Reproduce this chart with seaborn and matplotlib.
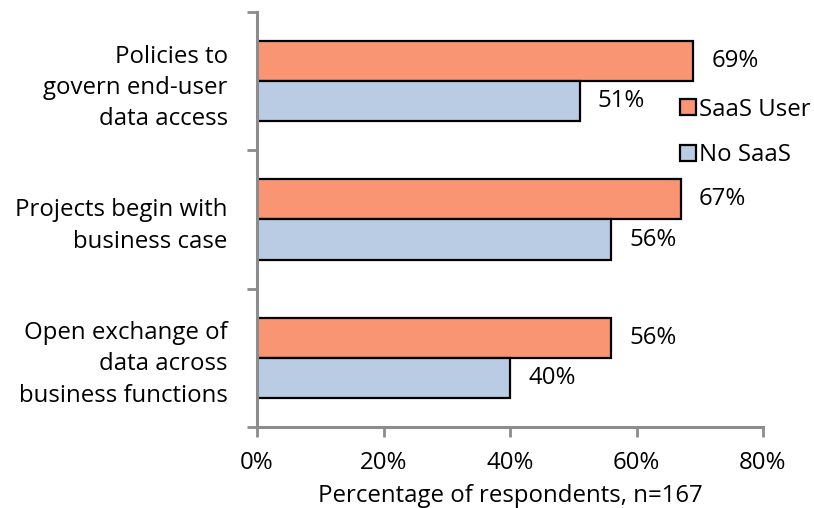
import matplotlib
matplotlib.use("Agg")
import matplotlib.pyplot as plt
import seaborn as sns
import pandas as pd
from matplotlib.ticker import FixedLocator, PercentFormatter

categories = ["Policies to\ngovern end-user\ndata access",
              "Projects begin with\nbusiness case",
              "Open exchange of\ndata across\nbusiness functions"]
saas_user = [69, 67, 56]
no_saas = [51, 56, 40]
series = ["SaaS User", "No SaaS"]
colors = {"SaaS User": "#FA9573", "No SaaS": "#B9CCE4"}
x_ticks = [0, 20, 40, 60, 80]

df = pd.DataFrame({
    "Category": categories * 2,
    "Value": saas_user + no_saas,
    "Group": [series[0]] * 3 + [series[1]] * 3,
})

sns.set_style("white")
plt.rcParams["font.family"] = ["Open Sans", "DejaVu Sans"]
plt.rcParams["text.color"] = "black"
plt.rcParams["xtick.color"] = "black"
plt.rcParams["ytick.color"] = "black"
plt.rcParams["axes.labelcolor"] = "black"
fs = 17.3

fig = plt.figure(figsize=(8.14, 5.08), dpi=100)
ax = fig.add_axes([257/814, 1-427/508, (763-257)/814, (427-12)/508])

sns.barplot(data=df, y="Category", x="Value", hue="Group", palette=colors,
            orient="h", width=0.58, edgecolor="black", linewidth=1.6,
            saturation=1, ax=ax, order=categories, hue_order=series)

for c in ax.containers:
    ax.bar_label(c, labels=[f"{int(round(v))}%" for v in c.datavalues],
                 padding=13, fontsize=fs)

ax.set_xlim(0, 80)
ax.set_ylim(2.5, -0.5)
ax.xaxis.set_major_locator(FixedLocator(x_ticks))
ax.xaxis.set_major_formatter(PercentFormatter(decimals=0))
ax.set_xlabel("Percentage of respondents, n=167", fontsize=fs, labelpad=7)
ax.set_ylabel("")
ax.tick_params(axis="x", bottom=True, labelsize=fs, length=7, width=2,
               color="#8c8c8c", labelcolor="black", direction="out", pad=10)
ax.tick_params(axis="y", which="major", left=False, length=0, labelsize=fs,
               pad=21, labelcolor="black")
ax.yaxis.set_minor_locator(FixedLocator([-0.5, 0.5, 1.5, 2.5]))
ax.tick_params(axis="y", which="minor", left=True, length=7, width=2,
               color="#8c8c8c", direction="out")
for lbl in ax.get_yticklabels():
    lbl.set_horizontalalignment("right")
    lbl.set_multialignment("right")
    lbl.set_linespacing(1.4)

for s in ["top", "right"]:
    ax.spines[s].set_visible(False)
for s in ["left", "bottom"]:
    ax.spines[s].set_color("#8c8c8c")
    ax.spines[s].set_linewidth(2.2)

ax.legend(frameon=False, fontsize=fs, loc="upper left",
          bbox_to_anchor=(0.836, 0.793), handlelength=0.65, handleheight=0.65,
          handletextpad=0.15, labelspacing=0.88, borderaxespad=0, borderpad=0)

fig.savefig("out.png", dpi=100)
